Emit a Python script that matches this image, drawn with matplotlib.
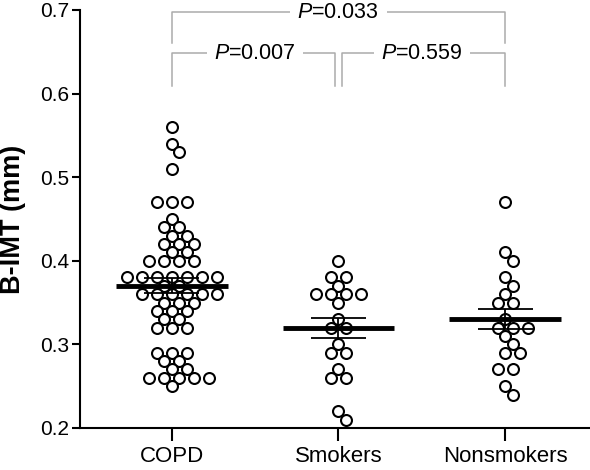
import matplotlib
matplotlib.use("Agg")
import matplotlib.pyplot as plt

# --- data ---
groups = ["COPD", "Smokers", "Nonsmokers"]

copd = ([0.56, 0.54, 0.53, 0.51] + [0.47] * 3 + [0.45] + [0.44] * 2 + [0.43] * 2
        + [0.42] * 3 + [0.41] * 2 + [0.40] * 4 + [0.38] * 7 + [0.37] * 2
        + [0.36] * 6 + [0.35] * 3 + [0.34] * 3 + [0.33] * 2 + [0.32] * 3
        + [0.29] * 3 + [0.28] * 2 + [0.27] * 2 + [0.26] * 5 + [0.25])
smokers = ([0.40] + [0.38] * 2 + [0.37] + [0.36] * 4 + [0.35] + [0.33]
           + [0.32] * 2 + [0.30] + [0.29] * 2 + [0.27] + [0.26] * 2 + [0.22] + [0.21])
nonsmokers = ([0.47, 0.41, 0.40, 0.38, 0.37, 0.36] + [0.35] * 2 + [0.33]
              + [0.32] * 3 + [0.31, 0.30] + [0.29] * 2 + [0.27] * 2 + [0.25, 0.24])

means = [0.37, 0.32, 0.33]
sems = [0.009, 0.012, 0.012]

# (left group, right group, label)
comparisons = [(0, 2, "0.033"), (0, 1, "0.007"), (1, 2, "0.559")]

plt.rcParams["font.family"] = ["Liberation Sans", "DejaVu Sans"]
plt.rcParams["mathtext.fontset"] = "custom"
plt.rcParams["mathtext.rm"] = "Liberation Sans"
plt.rcParams["mathtext.it"] = "Liberation Sans:italic"

STEP = 0.09          # horizontal slot in data units
PX_X, PX_Y = 167.0, 837.0   # pixels per data unit (for overlap test)
DIAM = 11.0


def swarm(vals, center):
    """Put equal values side by side, nudge a row half a slot if it hits the row above."""
    placed = []
    for v in sorted(set(vals), reverse=True):
        n = vals.count(v)
        base = [(i - (n - 1) / 2) * STEP for i in range(n)]
        for shift in [0, 0.5, -0.5, 1, -1, 1.5, -1.5]:
            cand = [b + shift * STEP for b in base]
            ok = True
            for c in cand:
                for px, py in placed:
                    if ((c - px) * PX_X) ** 2 + ((v - py) * PX_Y) ** 2 < DIAM ** 2:
                        ok = False
            if ok:
                break
        placed += [(c, v) for c in cand]
    return [center + p[0] for p in placed], [p[1] for p in placed]


fig = plt.figure(figsize=(5.9, 4.7), dpi=100)
ax = fig.add_axes([0.1356, 0.0894, 0.8644, 0.8894])

for i, vals in enumerate([copd, smokers, nonsmokers]):
    xs, ys = swarm(vals, i)
    ax.scatter(xs, ys, s=62, facecolor="white", edgecolor="black",
               linewidth=1.5, zorder=2, clip_on=False)

xpos = range(len(groups))
ax.hlines(means, [x - 0.335 for x in xpos], [x + 0.335 for x in xpos],
          color="black", lw=3.5, zorder=4)
lo = [m - s for m, s in zip(means, sems)]
hi = [m + s for m, s in zip(means, sems)]
ax.hlines(lo + hi, [x - 0.165 for x in xpos] * 2, [x + 0.165 for x in xpos] * 2,
          color="black", lw=1.3, zorder=4)
ax.vlines(xpos, lo, hi, color="black", lw=1.3, zorder=4)

# significance brackets
gray = "#ababab"
for a, b, p in comparisons:
    if b - a == 2:
        top, leg = 0.697, 0.660
        xa, xb = a, b
    else:
        top, leg = 0.648, 0.609
        xa = a + (0.02 if a == 1 else 0)
        xb = b - (0.02 if b == 1 else 0)
    ax.plot([xa, xa, xb, xb], [leg, top, top, leg], color=gray, lw=1.1,
            clip_on=False, zorder=1)
    ax.text((a + b) / 2, top, r"$\it{P}$=" + p, ha="center", va="center",
            fontsize=15.5, zorder=3, clip_on=False,
            bbox=dict(boxstyle="square,pad=0.35", fc="white", ec="none"))

ax.set_xlim(-0.55, 2.51)
ax.set_ylim(0.2, 0.7)
ax.set_xticks(list(xpos))
ax.set_xticklabels(groups, fontsize=16)
ax.set_yticks([0.2, 0.3, 0.4, 0.5, 0.6, 0.7])
ax.set_yticklabels(["0.2", "0.3", "0.4", "0.5", "0.6", "0.7"], fontsize=15)
ax.set_ylabel("B-IMT (mm)", fontsize=19.5, fontweight="bold", labelpad=10)

for side in ["top", "right"]:
    ax.spines[side].set_visible(False)
ax.spines["left"].set_linewidth(1.5)
ax.spines["bottom"].set_linewidth(1.5)
ax.tick_params(axis="x", length=9, width=1.5, pad=4)
ax.tick_params(axis="y", length=6, width=1.5, pad=2)

fig.savefig("out.png", dpi=100)
